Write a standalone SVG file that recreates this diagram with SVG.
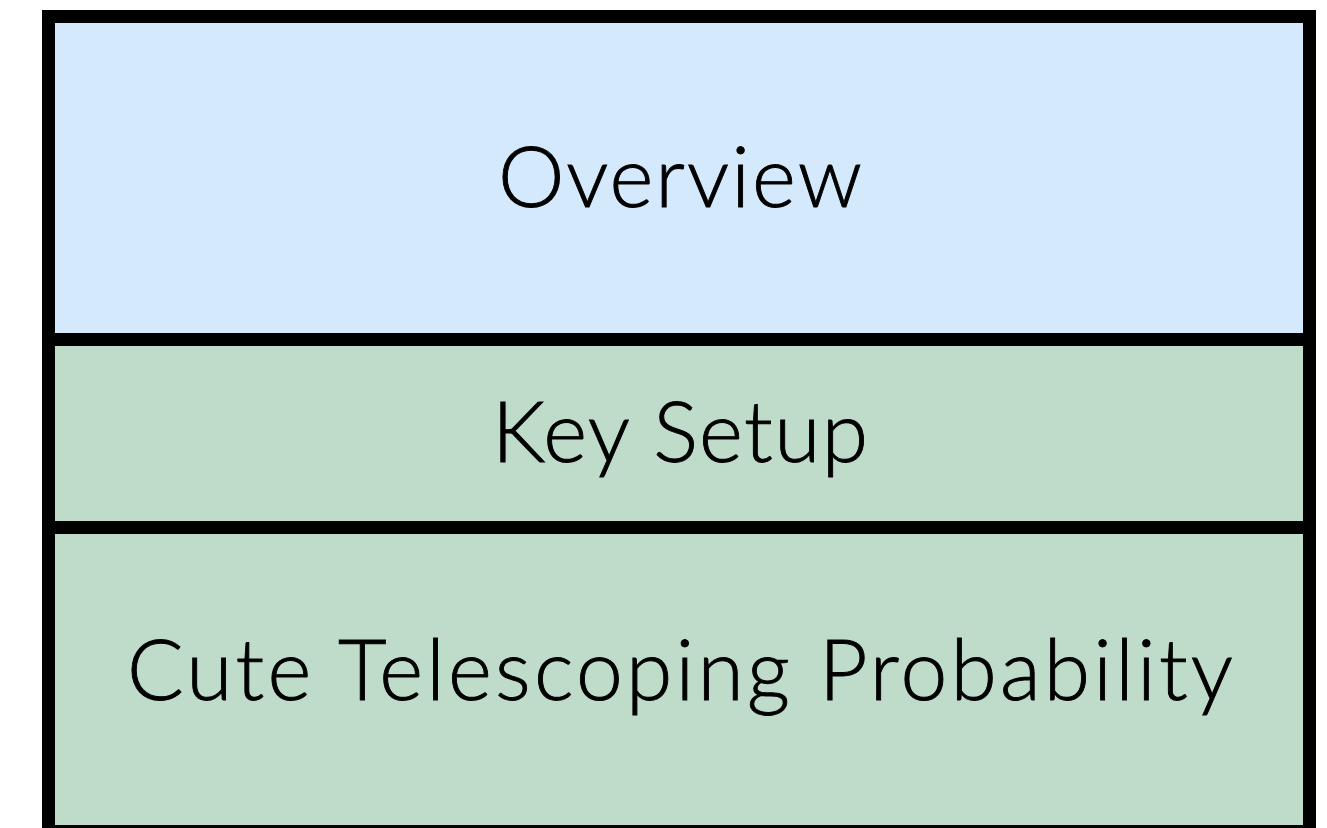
<svg xmlns="http://www.w3.org/2000/svg" width="1327" height="828" viewBox="0 0 1327 828">
  <style>
    .panel { stroke: #000; stroke-width: 13; }
    .label { font-family: Lato, "Open Sans", sans-serif; font-weight: 300; font-size: 84px; fill: #000; stroke: #000; stroke-width: 0.9; text-anchor: middle; }
  </style>
  <rect width="1327" height="828" fill="#fff"/>
  <g id="overview">
    <rect class="panel" x="48.5" y="16.5" width="1261" height="323" fill="#d4e9fc"/>
    <text class="label" x="680" y="207" textLength="364">Overview</text>
  </g>
  <g id="key-setup">
    <rect class="panel" x="48.5" y="339.5" width="1261" height="188" fill="#bfdccb"/>
    <text class="label" x="680" y="462" textLength="376">Key Setup</text>
  </g>
  <g id="cute-telescoping">
    <rect class="panel" x="48.5" y="527.5" width="1261" height="304" fill="#bfdccb"/>
    <text class="label" x="680" y="700" textLength="1106">Cute Telescoping Probability</text>
  </g>
  <g id="connectors"/>
</svg>
